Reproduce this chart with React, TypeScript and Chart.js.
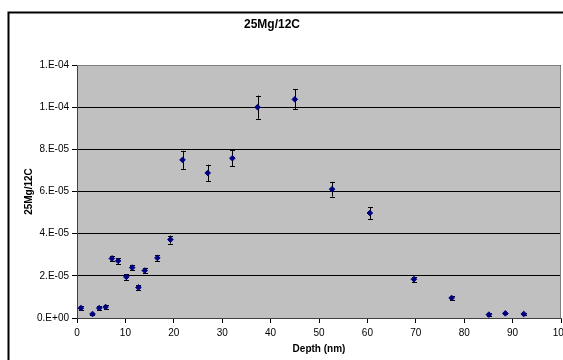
import React, { useEffect, useRef } from "react";
import { Chart, registerables } from "chart.js";

Chart.register(...registerables);

const chartTitle = "25Mg/12C";
const xAxisTitle = "Depth (nm)";
const yAxisTitle = "25Mg/12C";

const depth = [0.8, 3.2, 4.6, 5.9, 7.2, 8.5, 10.2, 11.4, 12.7, 14.0, 16.6, 19.3, 21.8, 27.0, 32.1, 37.3, 45.0, 52.7, 60.5, 69.6, 77.4, 85.1, 88.5, 92.3];
const ratio = [4.7e-6, 1.9e-6, 4.7e-6, 5.2e-6, 2.82e-5, 2.71e-5, 1.95e-5, 2.39e-5, 1.45e-5, 2.25e-5, 2.85e-5, 3.72e-5, 7.5e-5, 6.88e-5, 7.58e-5, 1.0e-4, 1.037e-4, 6.11e-5, 4.98e-5, 1.84e-5, 0.95e-5, 1.6e-6, 2.2e-6, 1.9e-6];
const ratioErr = [1.0e-6, 0.6e-6, 1.0e-6, 1.0e-6, 1.4e-6, 1.3e-6, 1.3e-6, 1.3e-6, 1.3e-6, 1.3e-6, 1.3e-6, 1.9e-6, 4.3e-6, 3.9e-6, 3.7e-6, 5.5e-6, 4.8e-6, 3.5e-6, 2.8e-6, 1.2e-6, 0.8e-6, 0.6e-6, 0.3e-6, 0.3e-6];

const xTicks = { min: 0, max: 100, step: 10 };
const yTicks = { min: 0, max: 1.2e-4, step: 2e-5 };

const FONT = "Arial, 'Liberation Sans', sans-serif";

function excelExp(v: number): string {
  const [m, e] = v.toExponential(0).split("e");
  const n = parseInt(e, 10);
  const sign = n < 0 ? "-" : "+";
  const d = String(Math.abs(n)).padStart(2, "0");
  return `${m}.E${sign}${d}`;
}

const decorPlugin = {
  id: "decor",
  beforeDraw(chart: any) {
    const { ctx, chartArea: a } = chart;
    ctx.save();
    ctx.fillStyle = "#C0C0C0";
    ctx.fillRect(a.left, a.top, a.right - a.left, a.bottom - a.top);
    ctx.restore();
  },
  beforeDatasetsDraw(chart: any) {
    const { ctx, chartArea: a, scales } = chart;
    ctx.save();
    ctx.strokeStyle = "#808080";
    ctx.lineWidth = 1;
    ctx.beginPath();
    ctx.moveTo(a.left, a.top + 0.5);
    ctx.lineTo(a.right - 0.5, a.top + 0.5);
    ctx.lineTo(a.right - 0.5, a.bottom);
    ctx.stroke();
    ctx.strokeStyle = "#000000";
    ctx.lineWidth = 1;
    const cap = 2.5;
    for (let i = 0; i < depth.length; i++) {
      const x = Math.round(scales.x.getPixelForValue(depth[i])) + 0.5;
      const y1 = scales.y.getPixelForValue(ratio[i] + ratioErr[i]);
      const y2 = scales.y.getPixelForValue(ratio[i] - ratioErr[i]);
      ctx.beginPath();
      ctx.moveTo(x, y1);
      ctx.lineTo(x, y2);
      ctx.moveTo(x - cap, Math.round(y1) + 0.5);
      ctx.lineTo(x + cap, Math.round(y1) + 0.5);
      ctx.moveTo(x - cap, Math.round(y2) + 0.5);
      ctx.lineTo(x + cap, Math.round(y2) + 0.5);
      ctx.stroke();
    }
    ctx.restore();
  },
  afterDraw(chart: any) {
    const { ctx } = chart;
    ctx.save();
    ctx.strokeStyle = "#000000";
    ctx.lineWidth = 2;
    ctx.beginPath();
    ctx.moveTo(8.5, chart.height + 5);
    ctx.lineTo(8.5, 12.5);
    ctx.lineTo(chart.width + 5, 12.5);
    ctx.stroke();
    ctx.fillStyle = "#000000";
    ctx.font = `bold 12px ${FONT}`;
    ctx.textAlign = "center";
    ctx.textBaseline = "middle";
    ctx.fillText(chartTitle, 272, 25);
    ctx.restore();
  },
};

export default function App() {
  const ref = useRef<HTMLCanvasElement | null>(null);

  useEffect(() => {
    if (!ref.current) return;
    const chart = new Chart(ref.current, {
      type: "scatter",
      data: {
        datasets: [
          {
            label: chartTitle,
            data: depth.map((d, i) => ({ x: d, y: ratio[i] })),
            pointStyle: "rectRot",
            pointRadius: 2.8,
            pointBackgroundColor: "#000080",
            pointBorderColor: "#000080",
            pointBorderWidth: 1,
            showLine: false,
          },
        ],
      },
      options: {
        responsive: false,
        animation: false,
        events: [],
        layout: { padding: { left: 23, top: 65, right: 39, bottom: 5 } },
        plugins: {
          legend: { display: false },
          title: { display: false },
          tooltip: { enabled: false },
        },
        scales: {
          x: {
            type: "linear",
            min: xTicks.min,
            max: xTicks.max,
            afterFit: (s: any) => {
              s.height = 37;
            },
            ticks: {
              stepSize: xTicks.step,
              color: "#000",
              font: { family: FONT, size: 10 },
              padding: 4,
              maxRotation: 0,
              autoSkip: false,
            },
            grid: {
              drawOnChartArea: false,
              drawTicks: true,
              tickLength: 5,
              color: "#000",
              tickColor: "#000",
            },
            border: { display: true, color: "#404040", width: 1 },
            title: {
              display: true,
              text: xAxisTitle,
              color: "#000",
              font: { family: FONT, size: 10, weight: "bold" },
              padding: { top: 0, bottom: 0 },
            },
          },
          y: {
            type: "linear",
            min: yTicks.min,
            max: yTicks.max,
            afterFit: (s: any) => {
              s.width = 54;
            },
            ticks: {
              stepSize: yTicks.step,
              color: "#000",
              font: { family: FONT, size: 10 },
              padding: 3,
              callback: (v: any) => excelExp(Number(v)),
            },
            grid: {
              drawOnChartArea: true,
              drawTicks: true,
              tickLength: 5,
              color: "#000",
              tickColor: "#000",
            },
            border: { display: true, color: "#404040", width: 1 },
            title: {
              display: true,
              text: yAxisTitle,
              color: "#000",
              font: { family: FONT, size: 10, weight: "bold" },
              padding: { top: 0, bottom: 0 },
            },
          },
        },
      },
      plugins: [decorPlugin],
    });
    return () => chart.destroy();
  }, []);

  return (
    <div
      style={{
        position: "fixed",
        left: 0,
        top: 0,
        width: 563,
        height: 360,
        overflow: "hidden",
        background: "#fff",
      }}
    >
      <canvas ref={ref} width={600} height={360} style={{ display: "block", width: 600, height: 360 }} />
    </div>
  );
}
